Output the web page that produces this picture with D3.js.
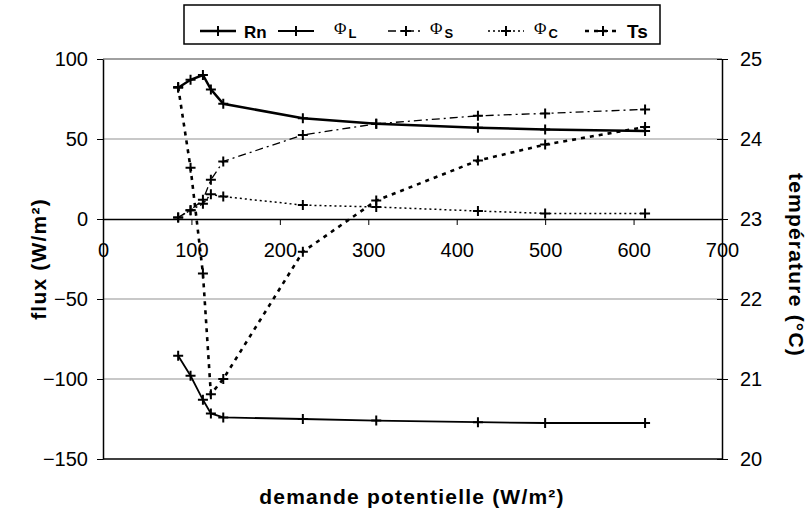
<!DOCTYPE html>
<html>
<head>
<meta charset="utf-8">
<script src="https://cdn.jsdelivr.net/npm/d3@7"></script>
<style>
  body { margin: 0; background: #fff; }
  svg { font-family: "Liberation Sans", Arial, sans-serif; }
</style>
</head>
<body>
<svg id="chart" width="807" height="511"></svg>
<script>
// demande potentielle (W/m²), same x for every series
const demande = [85, 99, 113, 122, 136, 226, 309, 424, 500, 613];
const rn      = [82, 87, 90, 81, 72, 63, 59.5, 57, 56, 55];
const phiL    = [-85.5, -98, -113, -121.5, -124, -125, -126, -127, -127.5, -127.5];
const phiS    = [1, 5.5, 12, 24.5, 36, 52.5, 59.5, 64.5, 66, 68.5];
const phiC    = [1, 5.5, 9.5, 15.5, 14, 8.7, 7.5, 5, 3.5, 3.5];
const ts      = [24.65, 23.64, 22.32, 20.81, 21.0, 22.59, 23.23, 23.73, 23.93, 24.15];

const xTicks = [0, 100, 200, 300, 400, 500, 600, 700];
const fluxTicks = [-150, -100, -50, 0, 50, 100];
const tempTicks = [20, 21, 22, 23, 24, 25];

const svg = d3.select("#chart");

const x = d3.scaleLinear().domain([0, 700]).range([103, 722]);
const y = d3.scaleLinear().domain([-150, 100]).range([459, 59]);
const y2 = d3.scaleLinear().domain([20, 25]).range([459, 59]);

// gridlines
svg.append("g").selectAll("line")
  .data([50, -50, -100])
  .join("line")
  .attr("x1", 103).attr("x2", 722)
  .attr("y1", d => y(d)).attr("y2", d => y(d))
  .attr("stroke", "#c8c8c8").attr("stroke-width", 2);

// top and bottom border of plot area
svg.append("line")
  .attr("x1", 103).attr("x2", 722).attr("y1", 59).attr("y2", 59)
  .attr("stroke", "#808080").attr("stroke-width", 1.5);
svg.append("line")
  .attr("x1", 103).attr("x2", 722).attr("y1", 459).attr("y2", 459)
  .attr("stroke", "#000").attr("stroke-width", 1.5);

// x axis at flux = 0
const xAxis = svg.append("g")
  .attr("transform", `translate(0,${y(0)})`)
  .call(d3.axisBottom(x).tickValues(xTicks).tickSize(6).tickSizeOuter(0).tickPadding(18));
xAxis.select(".domain").attr("stroke-width", 1.5);
xAxis.selectAll("text").attr("font-size", 20).attr("fill", "#000");

// left axis
const yAxis = svg.append("g")
  .attr("transform", `translate(103,0)`)
  .call(d3.axisLeft(y).tickValues(fluxTicks).tickSize(6).tickSizeOuter(0).tickPadding(9));
yAxis.select(".domain").attr("stroke-width", 1.5);
yAxis.selectAll("text").attr("font-size", 20).attr("fill", "#000");

// right axis, ticks crossing the line
const y2Axis = svg.append("g")
  .attr("transform", `translate(722,0)`)
  .call(d3.axisRight(y2).tickValues(tempTicks).tickFormat(d3.format("d"))
    .tickSize(6).tickSizeOuter(0).tickPadding(12));
y2Axis.select(".domain").attr("stroke-width", 1.5);
y2Axis.selectAll(".tick line").attr("x1", -5);
y2Axis.selectAll("text").attr("font-size", 20).attr("fill", "#000");

// axis titles
svg.append("text")
  .attr("transform", "translate(46,259) rotate(-90)")
  .attr("text-anchor", "middle")
  .attr("font-size", 21).attr("font-weight", "bold").attr("letter-spacing", 1.2)
  .text("flux (W/m²)");
svg.append("text")
  .attr("transform", "translate(789,265) rotate(90)")
  .attr("text-anchor", "middle")
  .attr("font-size", 21).attr("font-weight", "bold").attr("letter-spacing", 1.2)
  .text("température (°C)");
svg.append("text")
  .attr("x", 412).attr("y", 504)
  .attr("text-anchor", "middle")
  .attr("font-size", 21).attr("font-weight", "bold").attr("letter-spacing", 1.2)
  .text("demande potentielle (W/m²)");

// series
const series = [
  {name: "Rn", values: rn, scale: y, width: 2.5, dash: null},
  {name: "ΦL", values: phiL, scale: y, width: 1.8, dash: null},
  {name: "ΦS", values: phiS, scale: y, width: 1.3, dash: "8,4,2,4"},
  {name: "ΦC", values: phiC, scale: y, width: 1.5, dash: "2,3"},
  {name: "Ts", values: ts, scale: y2, width: 2.6, dash: "4,5"}
];

function cross(g, cx, cy) {
  g.append("path")
    .attr("d", `M${cx - 5},${cy}H${cx + 5}M${cx},${cy - 5}V${cy + 5}`)
    .attr("stroke", "#000").attr("stroke-width", 2).attr("fill", "none");
}

series.forEach(s => {
  const line = d3.line()
    .x((d, i) => x(demande[i]))
    .y(d => s.scale(d));
  const g = svg.append("g");
  g.append("path")
    .datum(s.values)
    .attr("d", line)
    .attr("fill", "none")
    .attr("stroke", "#000")
    .attr("stroke-width", s.width)
    .attr("stroke-dasharray", s.dash);
  s.values.forEach((v, i) => cross(g, x(demande[i]), s.scale(v)));
});

// legend
const legend = svg.append("g");
legend.append("rect")
  .attr("x", 184).attr("y", 5).attr("width", 476).attr("height", 39)
  .attr("fill", "#fff").attr("stroke", "#000").attr("stroke-width", 1.5);

const legendX = [200, 278, 388, 488, 585];
const legendLabel = [
  {main: "Rn", sub: null, gap: 8},
  {main: "Φ", sub: "L", gap: 20},
  {main: "Φ", sub: "S", gap: 6},
  {main: "Φ", sub: "C", gap: 10},
  {main: "Ts", sub: null, gap: 6}
];
series.forEach((s, i) => {
  const lx = legendX[i];
  const ly = 31;
  legend.append("line")
    .attr("x1", lx).attr("x2", lx + 36).attr("y1", ly).attr("y2", ly)
    .attr("stroke", "#000").attr("stroke-width", Math.min(s.width, 2.5))
    .attr("stroke-dasharray", s.dash);
  cross(legend, lx + 18, ly);
  const lab = legendLabel[i];
  const t = legend.append("text")
    .attr("x", lx + 36 + lab.gap).attr("y", 38);
  if (lab.sub === null) {
    t.attr("font-size", lab.main === "Ts" ? 19 : 17).attr("font-weight", "bold").text(lab.main);
  } else {
    t.append("tspan")
      .attr("font-family", "'Liberation Serif', 'Times New Roman', serif")
      .attr("font-size", 17).attr("dy", -4).text(lab.main);
    t.append("tspan")
      .attr("font-size", 13).attr("font-weight", "bold").attr("dx", 2).attr("dy", 4).text(lab.sub);
  }
});
</script>
</body>
</html>
